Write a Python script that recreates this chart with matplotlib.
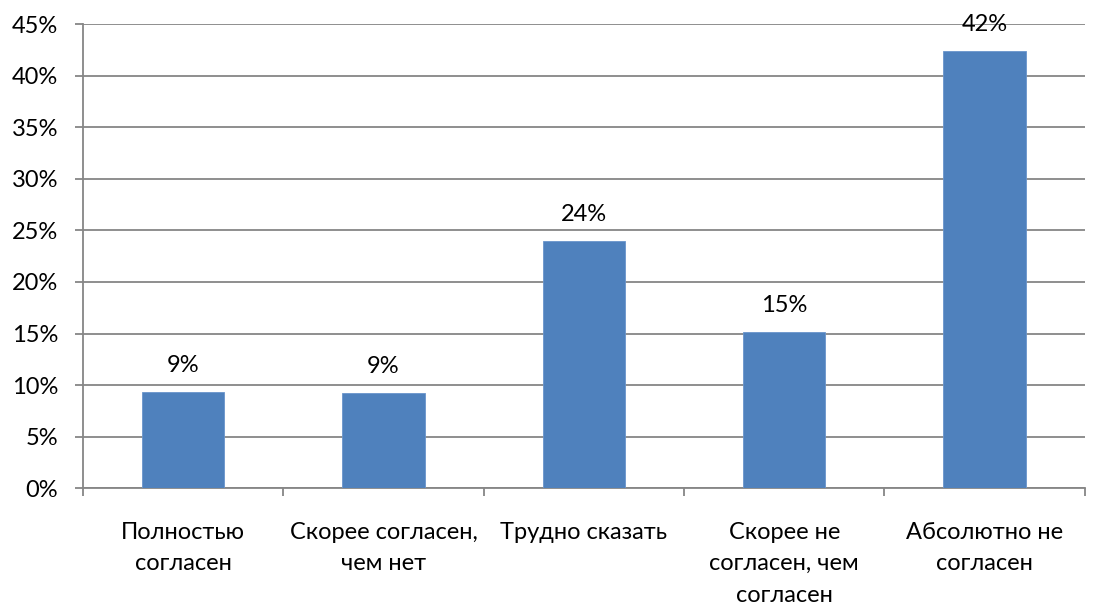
import matplotlib.pyplot as plt
import numpy as np

# ====== Data ======
categories = ["Полностью\nсогласен", "Скорее согласен,\nчем нет", "Трудно сказать",
              "Скорее не\nсогласен, чем\nсогласен", "Абсолютно не\nсогласен"]
values = [9.3, 9.2, 24.0, 15.15, 42.4]
labels = ["9%", "9%", "24%", "15%", "42%"]
yticks = [0, 5, 10, 15, 20, 25, 30, 35, 40, 45]

plt.rcParams['font.family'] = ['Lato', 'DejaVu Sans']
grid_c = '#868686'
fs = 17

fig = plt.figure(figsize=(10.96, 6.05), dpi=100)
ax = fig.add_axes([0.0757, 0.193, 0.914, 0.767])

x = np.arange(len(categories))
bars = ax.bar(x, values, width=0.41, color='#4F81BD', edgecolor='#6A95CC', linewidth=0.6, zorder=3)

for b, lab in zip(bars, labels):
    ax.annotate(lab, (b.get_x() + b.get_width() / 2, b.get_height()),
                xytext=(0, 19), textcoords='offset points',
                ha='center', va='center', fontsize=fs, zorder=4)

ax.set_xlim(-0.5, len(categories) - 0.5)
ax.set_ylim(0, 45)
ax.set_yticks(yticks)
ax.set_yticklabels([f"{t}%" for t in yticks], fontsize=fs)
ax.yaxis.grid(True, color=grid_c, linewidth=1.3, zorder=0)

# category labels between boundary ticks
ax.set_xticks(np.arange(len(categories) + 1) - 0.5)
ax.set_xticklabels([])
ax.tick_params(axis='x', length=6, width=1.3, color=grid_c, direction='out')
ax.tick_params(axis='y', length=6, width=1.3, color=grid_c, direction='out', pad=12)
for i, c in enumerate(categories):
    ax.text(i, -0.072, c, transform=ax.get_xaxis_transform(), ha='center', va='top',
            fontsize=fs, linespacing=1.62)

for s in ['top', 'right']:
    ax.spines[s].set_visible(False)
for s in ['left', 'bottom']:
    ax.spines[s].set_color(grid_c)
    ax.spines[s].set_linewidth(1.3)

plt.savefig("out.png", dpi=100)
